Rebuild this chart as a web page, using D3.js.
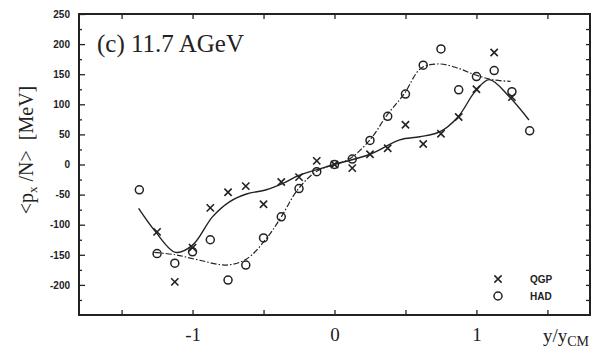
<!DOCTYPE html>
<html>
<head>
<meta charset="utf-8">
<script src="https://cdn.jsdelivr.net/npm/d3@7"></script>
<style>
  body { margin: 0; background: #fff; }
  svg { display: block; }
  .tick line { stroke: #222; stroke-width: 1.3; }
</style>
</head>
<body>
<div id="container"></div>
<script>
// measured points, y/y_CM vs <px/N> in MeV
var rapidity = [-1.375, -1.25, -1.125, -1.0, -0.875, -0.75, -0.625, -0.5, -0.375, -0.25, -0.125,
  0, 0.125, 0.25, 0.375, 0.5, 0.625, 0.75, 0.875, 1.0, 1.125, 1.25, 1.375];
var qgpValues = [null, -112, -195, -138, -72, -46, -36, -66, -29, -21, 6,
  0, -6, 17, 27, 66, 34, 51, 79, 125, 186, 112, null];
var hadValues = [-42, -148, -164, -145, -125, -192, -167, -122, -87, -40, -12,
  0, 9, 40, 80, 117, 165, 192, 124, 146, 156, 121, 56];

// fitted curves
var qgpFitX = [-1.38, -1.26, -1.12, -1.0, -0.86, -0.74, -0.62, -0.48, -0.36, -0.25, 0,
  0.25, 0.46, 0.6, 0.74, 0.87, 0.99, 1.09, 1.23, 1.37];
var qgpFitY = [-73, -112, -146, -134, -87, -62, -49, -42, -31, -18, 0,
  17, 41, 46, 54, 79, 121, 141, 113, 74];
var hadFitX = [-1.27, -1.12, -0.95, -0.76, -0.62, -0.48, -0.375, -0.26, -0.13, 0,
  0.11, 0.25, 0.37, 0.49, 0.61, 0.74, 0.87, 0.99, 1.11, 1.24];
var hadFitY = [-146, -150, -159, -167, -157, -123, -87, -42, -12, 0,
  10, 41, 82, 117, 160, 167, 160, 149, 141, 138];

var xTicks = [-1.5, -1, -0.5, 0, 0.5, 1, 1.5];
var yMajorTicks = [-200, -150, -100, -50, 0, 50, 100, 150, 200, 250];
var yMinorTicks = d3.range(-225, 250, 50);
var yAllTicks = d3.range(-225, 250, 25);

var width = 603, height = 353;
var ink = "#222";

var svg = d3.select("#container")
  .append("svg")
  .attr("width", width)
  .attr("height", height);

var x = d3.scaleLinear().domain([-1.8, 1.8]).range([79, 590]);
var y = d3.scaleLinear().domain([-250, 250]).range([315, 14]);

// bottom axis with inward ticks
var bottom = svg.append("g")
  .attr("transform", "translate(0," + y(-250) + ")")
  .call(d3.axisBottom(x).tickValues(xTicks).tickSize(-5).tickPadding(13)
    .tickFormat(function (d) { return Number.isInteger(d) ? String(d) : ""; }));
bottom.selectAll("text")
  .attr("font-family", "'Liberation Serif', 'Times New Roman', serif")
  .attr("font-size", 19)
  .attr("fill", ink);

svg.append("g")
  .attr("transform", "translate(0," + y(250) + ")")
  .call(d3.axisTop(x).tickValues(xTicks).tickSize(-5).tickFormat(""));

// left axis, major + minor
var left = svg.append("g")
  .attr("transform", "translate(" + x(-1.8) + ",0)")
  .call(d3.axisLeft(y).tickValues(yMajorTicks).tickSize(-6).tickPadding(9)
    .tickFormat(function (d) { return String(d); }));
left.selectAll("text")
  .attr("font-family", "'Liberation Sans', Arial, sans-serif")
  .attr("font-weight", "bold")
  .attr("font-size", 10)
  .attr("fill", ink);

svg.append("g")
  .attr("transform", "translate(" + x(-1.8) + ",0)")
  .call(d3.axisLeft(y).tickValues(yMinorTicks).tickSize(-3).tickFormat(""));

svg.append("g")
  .attr("transform", "translate(" + x(1.8) + ",0)")
  .call(d3.axisRight(y).tickValues(yAllTicks).tickSize(-4).tickFormat(""));

svg.selectAll(".domain").remove();

svg.append("rect")
  .attr("x", x(-1.8))
  .attr("y", y(250))
  .attr("width", x(1.8) - x(-1.8))
  .attr("height", y(-250) - y(250))
  .attr("fill", "none")
  .attr("stroke", ink)
  .attr("stroke-width", 2);

// fit curves
var line = d3.line()
  .x(function (d) { return x(d[0]); })
  .y(function (d) { return y(d[1]); })
  .curve(d3.curveCatmullRom);

svg.append("path")
  .attr("d", line(d3.zip(qgpFitX, qgpFitY)))
  .attr("fill", "none")
  .attr("stroke", ink)
  .attr("stroke-width", 1.4);

svg.append("path")
  .attr("d", line(d3.zip(hadFitX, hadFitY)))
  .attr("fill", "none")
  .attr("stroke", ink)
  .attr("stroke-width", 1.2)
  .attr("stroke-dasharray", "6,2,1.5,2");

// markers
var cross = d3.symbol().type(d3.symbolTimes).size(36);

svg.append("g").selectAll("path")
  .data(d3.zip(rapidity, qgpValues).filter(function (d) { return d[1] !== null; }))
  .join("path")
  .attr("transform", function (d) { return "translate(" + x(d[0]) + "," + y(d[1]) + ")"; })
  .attr("d", cross)
  .attr("fill", "none")
  .attr("stroke", ink)
  .attr("stroke-width", 1.6);

svg.append("g").selectAll("circle")
  .data(d3.zip(rapidity, hadValues))
  .join("circle")
  .attr("cx", function (d) { return x(d[0]); })
  .attr("cy", function (d) { return y(d[1]); })
  .attr("r", 4)
  .attr("fill", "none")
  .attr("stroke", ink)
  .attr("stroke-width", 1.5);

// panel label
svg.append("text")
  .attr("x", 97)
  .attr("y", 52)
  .attr("font-family", "'Liberation Serif', 'Times New Roman', serif")
  .attr("font-size", 25)
  .attr("fill", ink)
  .text("(c) 11.7 AGeV");

// legend
svg.append("path")
  .attr("transform", "translate(498,279)")
  .attr("d", cross)
  .attr("fill", "none")
  .attr("stroke", ink)
  .attr("stroke-width", 1.5);
svg.append("circle")
  .attr("cx", 498).attr("cy", 296).attr("r", 4)
  .attr("fill", "none").attr("stroke", ink).attr("stroke-width", 1.5);
svg.selectAll(".legend-label")
  .data([["QGP", 283], ["HAD", 300]])
  .join("text")
  .attr("class", "legend-label")
  .attr("x", 530)
  .attr("y", function (d) { return d[1]; })
  .attr("font-family", "'Liberation Sans', Arial, sans-serif")
  .attr("font-weight", "bold")
  .attr("font-size", 10)
  .attr("fill", ink)
  .text(function (d) { return d[0]; });

// axis titles
var xTitle = svg.append("text")
  .attr("x", 543)
  .attr("y", 342)
  .attr("font-family", "'Liberation Serif', 'Times New Roman', serif")
  .attr("font-size", 19)
  .attr("fill", ink);
xTitle.append("tspan").text("y/y");
xTitle.append("tspan").attr("font-size", 14).attr("dy", 4).text("CM");

var yTitle = svg.append("text")
  .attr("transform", "translate(33,150) rotate(-90)")
  .attr("text-anchor", "middle")
  .attr("font-family", "'Liberation Serif', 'Times New Roman', serif")
  .attr("font-size", 20)
  .attr("fill", ink);
yTitle.append("tspan").text("<p");
yTitle.append("tspan").attr("font-size", 13).attr("dy", 4).text("x");
yTitle.append("tspan").attr("dy", -4).text("\u00a0/N>\u00a0\u00a0[MeV]");
</script>
</body>
</html>
